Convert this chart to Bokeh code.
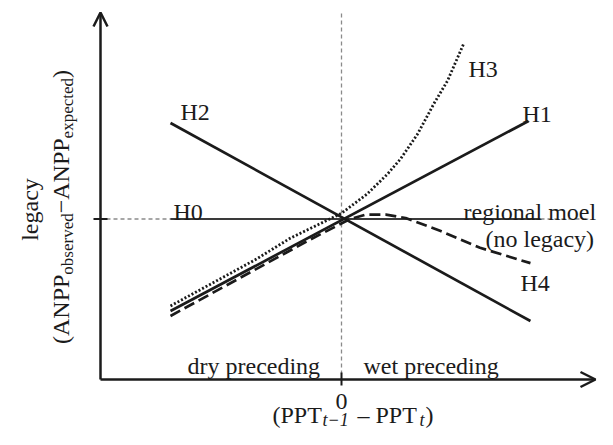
import math
from bokeh.plotting import figure
from bokeh.models import Range1d, Arrow, OpenHead
from bokeh.core.properties import value
from bokeh.embed import file_html
from bokeh.resources import INLINE

# ---------------- data (conceptual units) ----------------
# x : PPT(t-1) - PPT(t)   (negative = dry preceding, positive = wet preceding)
# y : legacy = ANPP observed - ANPP expected
h0_x = [-1.0, 1.164]
h0_y = [0.0, 0.0]

h1_x = [-1.0, 1.094]
h1_y = [-0.958, 1.021]

h2_x = [-1.0, 1.105]
h2_y = [1.0, -1.063]

h3_x = [-1.0, -0.5, -0.3, 0.0, 0.15, 0.27, 0.345, 0.445, 0.54, 0.62, 0.713]
h3_y = [-0.906, -0.42, -0.2, 0.06, 0.26, 0.47, 0.625, 0.885, 1.2, 1.44, 1.82]

h4_x = [-1.0, -0.2, 0.05, 0.14, 0.26, 0.375, 0.58, 0.81, 1.105]
h4_y = [-1.01, -0.23, 0.0, 0.045, 0.045, 0.01, -0.125, -0.30, -0.46]

hyp_names = ["H0", "H1", "H2", "H3", "H4"]
region_labels = ["dry preceding", "wet preceding"]
model_labels = ["regional moel", "(no legacy)"]
x_ticks = [0]
y_ticks = [0]
x_tick_labels = ["0"]

# ---------------- layout helpers (canvas pixels -> data units) ----------------
OX, OY = 341.0, 218.5      # canvas pixel of the origin
UX, UY = 171.0, 96.0       # pixels per data unit
W, H = 597, 429


def dx(px_):
    return (px_ - OX) / UX


def dy(py_):
    return (OY - py_) / UY


FONT = "Liberation Serif"
INK = "#1b1b1b"
MAIN = 24
SUB = 17

W_REG = {' ': 250, '(': 333, ')': 333, 'A': 722, 'N': 722, 'P': 556, 'T': 611,
         'a': 444, 'b': 500, 'c': 444, 'd': 500, 'e': 444, 'g': 500, 'i': 278,
         'l': 278, 'm': 778, 'n': 500, 'o': 500, 'p': 500, 'r': 333, 's': 389,
         't': 278, 'v': 500, 'x': 500, 'y': 500, '–': 500, '−': 564, '0': 500, '1': 500}


def text_w(s, size):
    return sum(W_REG.get(c, 500) for c in s) * size / 1000.0


p = figure(width=W, height=H,
           x_range=Range1d(dx(0), dx(W)), y_range=Range1d(dy(H), dy(0)),
           output_backend="svg", toolbar_location=None, min_border=0,
           x_axis_type=None, y_axis_type=None)
p.outline_line_color = None
p.background_fill_color = "white"
p.border_fill_color = "white"


def put_text(xs, ys, texts, size, align="left", angle=0.0, style="normal", color=INK):
    p.text(x=xs, y=ys, text=texts, text_font=value(FONT),
           text_font_size=value(f"{size}px"), text_align=align,
           text_baseline="alphabetic", angle=angle, text_color=color,
           text_font_style=style)


# ---------------- reference (zero) lines ----------------
p.segment(x0=[dx(106)], y0=[y_ticks[0]], x1=[dx(588)], y1=[y_ticks[0]],
          line_color="#8a8a8a", line_width=1.3, line_dash="4 3")
p.segment(x0=[x_ticks[0]], y0=[dy(13)], x1=[x_ticks[0]], y1=[dy(373)],
          line_color="#8a8a8a", line_width=1.3, line_dash="4 3")

# ---------------- axes (arrows) ----------------
AX_X = dx(100)
AX_Y = dy(379)
p.add_layout(Arrow(end=OpenHead(size=14, line_width=2.5, line_color=INK),
                   x_start=AX_X, y_start=AX_Y, x_end=AX_X, y_end=dy(12),
                   line_width=2.5, line_color=INK))
p.add_layout(Arrow(end=OpenHead(size=15, line_width=2.5, line_color=INK),
                   x_start=AX_X, y_start=AX_Y, x_end=dx(595), y_end=AX_Y,
                   line_width=2.5, line_color=INK))
# tick marks
p.segment(x0=[dx(93)], y0=[y_ticks[0]], x1=[dx(107)], y1=[y_ticks[0]],
          line_color=INK, line_width=2)
p.segment(x0=[x_ticks[0]], y0=[dy(372)], x1=[x_ticks[0]], y1=[dy(385)],
          line_color=INK, line_width=2)

# ---------------- hypotheses ----------------
p.line(h0_x, h0_y, line_color="#3a3a3a", line_width=1.8)
p.line(h2_x, h2_y, line_color=INK, line_width=2.7)
p.line(h1_x, h1_y, line_color=INK, line_width=2.7)
p.line(h4_x, h4_y, line_color=INK, line_width=2.7, line_dash="11 5")
p.line(h3_x, h3_y, line_color=INK, line_width=2.8, line_dash="2 2")

# ---------------- labels ----------------
put_text([dx(173), dx(522), dx(180), dx(468), dx(520)],
         [dy(211), dy(113), dy(111), dy(68), dy(282)], hyp_names, MAIN)
put_text([dx(463), dx(485)], [dy(211), dy(238)], model_labels, MAIN)
put_text([dx(187), dx(363)], [dy(365), dy(365)], region_labels, MAIN)
put_text(x_ticks, [dy(401)], x_tick_labels, MAIN, align="center")

# x-axis label: (PPT_{t-1} - PPT_t)
put_text([dx(272), dx(357), dx(425)], [dy(414)] * 3, ["(PPT", "– PPT", ")"], MAIN)
put_text([dx(322), dx(419)], [dy(419)] * 2, ["t−1", "t"], 18, style="italic")

# y-axis label (rotated)
put_text([dx(29)], [dy(209)], ["legacy"], MAIN, align="center", angle=math.pi / 2)
y_parts = [("(ANPP", False), ("observed", True), ("−ANPP", False), ("expected", True), (")", False)]
total = sum(text_w(s, SUB if sub else MAIN) for s, sub in y_parts)
pos = 206.5 + total / 2.0
for s, sub in y_parts:
    size = SUB if sub else MAIN
    base_x = 67 if sub else 60
    put_text([dx(base_x)], [dy(pos)], [s], size, angle=math.pi / 2)
    pos -= text_w(s, size)

open("out.html", "w").write(file_html(p, INLINE))
